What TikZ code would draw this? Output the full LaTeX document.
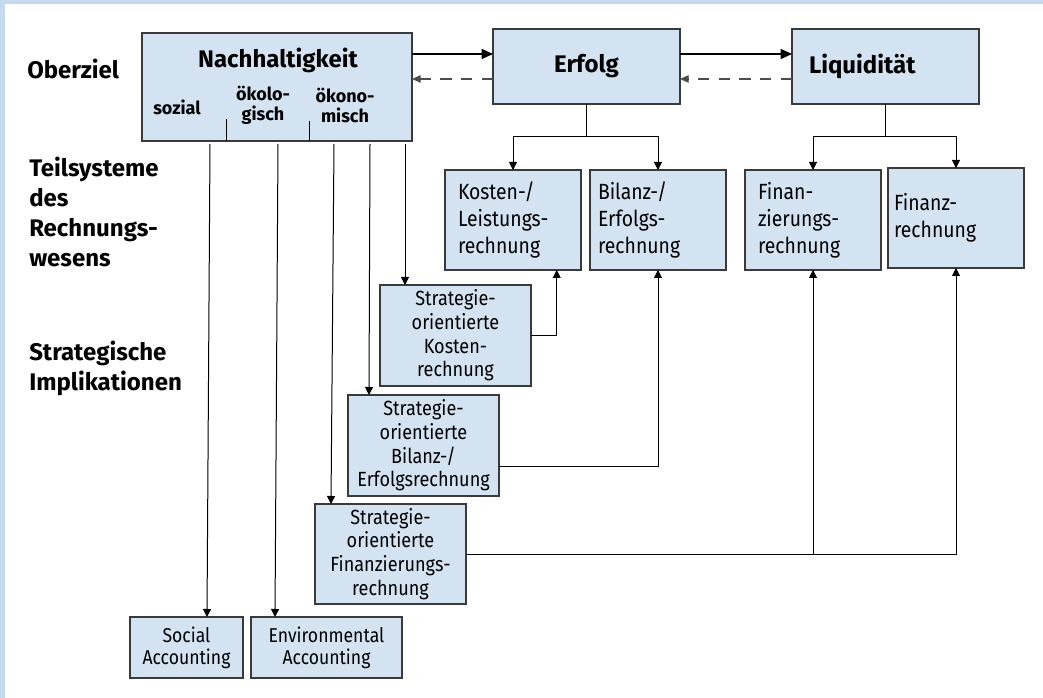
\documentclass[tikz,border=0pt]{standalone}
\usepackage{fontspec}
\setmainfont{Fira Sans}[FakeStretch=0.88]
\newfontfamily\headfamily{Fira Sans}
\usetikzlibrary{arrows.meta,calc}

\definecolor{boxfill}{HTML}{D4E3F2}
\definecolor{boxline}{HTML}{3A3A3A}
\definecolor{stripblue}{HTML}{C6DAEF}

% font sizes used in the chart
\newcommand\rowlabelfont{\headfamily\bfseries\fontsize{18pt}{22.5pt}\selectfont}
\newcommand\goalfont{\headfamily\bfseries\fontsize{18pt}{21pt}\selectfont}
\newcommand\aspectfont{\headfamily\bfseries\fontsize{13.5pt}{15pt}\selectfont}
\newcommand\boxtextfont{\fontsize{16.5pt}{20.25pt}\selectfont}
\newcommand\strattextfont{\fontsize{15.4pt}{17.8pt}\selectfont}
\newcommand\acctextfont{\fontsize{15pt}{16.5pt}\selectfont}

\begin{document}
\begin{tikzpicture}[x=0.75pt,y=-0.75pt,
  box/.style={rectangle, draw=boxline, fill=boxfill, line width=0.9pt, outer sep=0pt, inner ysep=0pt},
  topbox/.style={box, anchor=north west, minimum width=102pt, minimum height=75pt, align=left, font=\boxtextfont},
  stratbox/.style={box, anchor=north west, minimum width=113.25pt, minimum height=75.75pt, align=center, inner xsep=0pt, font=\strattextfont},
  accbox/.style={box, anchor=north west, minimum height=45.75pt, align=center, inner xsep=0pt, font=\acctextfont},
  goalbox/.style={box, anchor=north west, minimum width=140.25pt, minimum height=56.25pt, font=\goalfont},
  rowlabel/.style={anchor=west, inner sep=0pt, align=left, font=\rowlabelfont},
  aspect/.style={inner sep=0pt, align=center, font=\aspectfont},
  conn/.style={line width=0.75pt, -{Triangle[length=6pt,width=6pt]}},
  plain/.style={line width=0.75pt},
  flow/.style={line width=1pt, -{Triangle[length=8.5pt,width=7.5pt]}},
  back/.style={line width=0.9pt, draw=black!70, dash pattern=on 8.5pt off 7pt, -{Triangle[length=6.5pt,width=5.5pt]}},
]
% page and blue frame strips
\useasboundingbox (0,0) rectangle (1043,698);
\fill[white] (0,0) rectangle (1043,698);
\fill[stripblue] (0,0) rectangle (1043,4);
\fill[stripblue] (0,0) rectangle (5,698);

% row labels
\node[rowlabel] (oberziel) at (27,69) {Oberziel};
\node[rowlabel] (teilsys) at (29,211.5) {Teilsysteme\\des\\Rechnungs-\\wesens};
\node[rowlabel] (stratimp) at (29,368) {Strategische\\Implikationen};

% goal boxes
\node[box, anchor=north west, minimum width=202.5pt, minimum height=81pt] (nach) at (142,33) {};
\node[aspect, font=\goalfont] (nachtitle) at (278,60) {Nachhaltigkeit};
\node[aspect, anchor=west] (sozial) at (153,107) {sozial};
\node[aspect] (oekolo) at (263,105) {ökolo-\\gisch};
\node[aspect] (oekono) at (345,105) {ökono-\\misch};
\draw[plain] ($(nach.south west)+(84,0)$) -- ++(0,-22);
\draw[plain] ($(nach.south west)+(167,0)$) -- ++(0,-20);

\node[goalbox] (erfolg) at (493,29) {Erfolg};
\node[goalbox, align=left, text width=114.75pt, inner xsep=12.75pt] (liq) at (792,29) {Liquidität};

% accounting subsystems
\node[topbox, text width=82.5pt, inner xsep=9.75pt] (kosten) at (445,170) {Kosten-/\\Leistungs-\\rechnung};
\node[topbox, text width=90pt, inner xsep=6pt] (bilanz) at (590,170) {Bilanz-/\\Erfolgs-\\rechnung};
\node[topbox, text width=82.5pt, inner xsep=9.75pt] (finanz) at (745,170) {Finan-\\zierungs-\\rechnung};
\node[topbox, text width=93pt, inner xsep=4.5pt] (finrech) at (888,168) {Finanz-\\rechnung};

% strategy-oriented accounting
\node[stratbox] (sk) at (380,285) {Strategie-\\orientierte\\Kosten-\\rechnung};
\node[stratbox] (sb) at (348,395) {Strategie-\\orientierte\\Bilanz-/\\Erfolgsrechnung};
\node[stratbox, minimum height=75pt] (sf) at (315,504) {Strategie-\\orientierte\\Finanzierungs-\\rechnung};

\node[accbox, minimum width=84.75pt] (social) at (130,617) {Social\\Accounting};
\node[accbox, minimum width=113.25pt] (env) at (251,617) {Environmental\\Accounting};

% links between the goals
\coordinate (top) at (0,54);
\coordinate (low) at (0,79);
\draw[flow] (nach.east |- top) -- (erfolg.west |- top);
\draw[back] (erfolg.west |- low) -- (nach.east |- low);
\draw[flow] (erfolg.east |- top) -- (liq.west |- top);
\draw[back] (liq.west |- low) -- (erfolg.east |- low);

% goals to subsystems
\path (erfolg.south) ++(0,33) coordinate (ej);
\draw[plain] (erfolg.south) -- (ej);
\draw[conn] (ej) -| (kosten.north);
\draw[conn] (ej) -| (bilanz.north);
\path (liq.south) ++(0,33) coordinate (lj);
\draw[plain] (liq.south) -- (lj);
\draw[conn] (lj) -| (finanz.north);
\draw[conn] (lj) -| (finrech.north);

% sustainability dimensions downwards
\draw[conn] ($(nach.south west)+(68,3)$) -- ($(social.north west)+(77,0)$);
\draw[conn] ($(nach.south west)+(136,3)$) -- ($(env.north west)+(24,0)$);
\draw[conn] ($(nach.south west)+(192,3)$) -- ($(sf.north west)+(16,0)$);
\draw[conn] ($(nach.south west)+(228,3)$) -- ($(sb.north west)+(21,0)$);
\draw[conn] ($(nach.south west)+(263,3)$) -- ($(sk.north west)+(25,0)$);

% strategy-oriented accounting feeds the subsystems
\draw[conn] (sk.east) -| ([xshift=-18.2pt]kosten.south east);
\draw[conn] ([yshift=-15.4pt]sb.east) -| (bilanz.south);
\draw[conn] (sf.east) -| (finanz.south);
\draw[conn] (sf.east) -| (finrech.south);
\end{tikzpicture}
\end{document}
